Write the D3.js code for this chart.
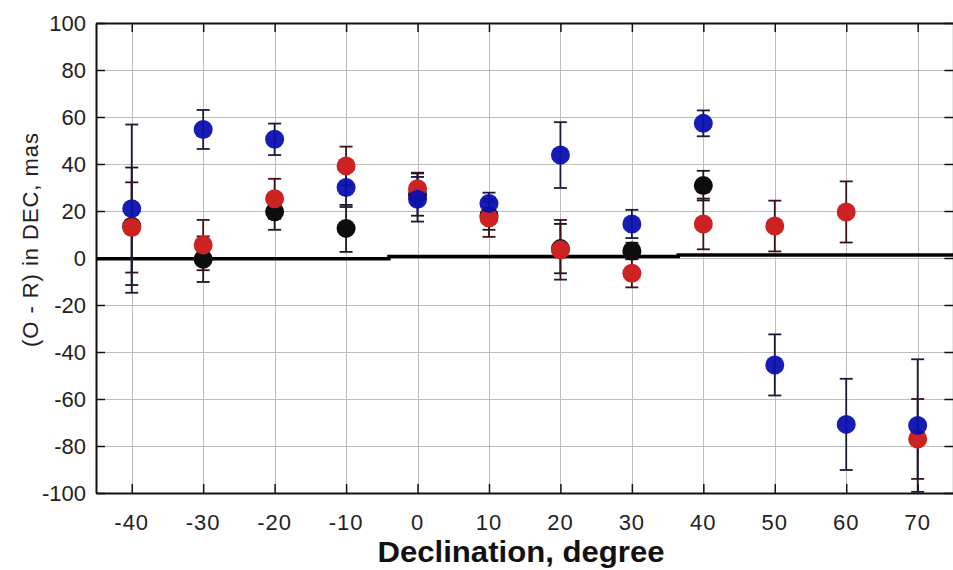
<!DOCTYPE html>
<html>
<head>
<meta charset="utf-8">
<title>(O - R) in DEC vs Declination</title>
<style>
body { margin: 0; background: #fff; }
svg { display: block; font-family: "Liberation Sans", Arial, sans-serif; }
.grid line { stroke: #bdbdbd; stroke-width: 1px; shape-rendering: crispEdges; }
.tick-label { font-size: 22px; fill: #222; }
</style>
</head>
<body>
<script src="https://d3js.org/d3.v7.min.js"></script>
<script>
// declination bins, degrees
var decl = [-40, -30, -20, -10, 0, 10, 20, 30, 40, 50, 60, 70];

// blue series
var blueVal = [21, 54.7, 50.5, 30, 25, 23.2, 43.8, 14.5, 57.3, -45.5, -70.8, -71.3];
var blueErr = [35.8, 8.3, 6.7, 8.3, 9.5, 4.6, 14, 6, 5.5, 13, 19.4, 28.2];

// red series
var redVal = [13, 5.5, 25.2, 39.2, 29.5, 17, 3.5, -6.5, 14.5, 13.6, 19.6, -77];
var redErr = [19.2, 10.7, 8.5, 8.2, 6.8, 8, 12.7, 6, 10.8, 10.8, 13, 17];

// black series (no points north of 40)
var blackVal = [13.5, -0.5, 19.7, 12.6, 27, 18, 4, 3, 30.8, null, null, null];
var blackErr = [25, 9.7, 7.7, 10, 9, 6, 10.5, 3.5, 6.3, null, null, null];

// reference line, drawn as three short steps
var refX = [-45, -4, -4, 36.5, 36.5, 75];
var refY = [-0.3, -0.3, 0.6, 0.6, 1.3, 1.3];

var xTicks = [-40, -30, -20, -10, 0, 10, 20, 30, 40, 50, 60, 70];
var yTicks = [-100, -80, -60, -40, -20, 0, 20, 40, 60, 80, 100];

var width = 953, height = 570;
var padL = 96, padR = 953.4, padT = 23, padB = 493;

var x = d3.scaleLinear().domain([-45, 75]).range([padL, padR]);
var y = d3.scaleLinear().domain([-100, 100]).range([padB, padT]);

var svg = d3.select("body").append("svg")
    .attr("width", width)
    .attr("height", height);

// grid
var grid = svg.append("g").attr("class", "grid");
grid.selectAll(".gx")
    .data(xTicks)
  .enter().append("line")
    .attr("x1", function(d) { return Math.round(x(d)) + 0.5; })
    .attr("x2", function(d) { return Math.round(x(d)) + 0.5; })
    .attr("y1", padT).attr("y2", padB);
grid.selectAll(".gy")
    .data(yTicks.filter(function(d) { return d > -100 && d < 100; }))
  .enter().append("line")
    .attr("x1", padL).attr("x2", padR)
    .attr("y1", function(d) { return Math.round(y(d)) + 0.5; })
    .attr("y2", function(d) { return Math.round(y(d)) + 0.5; });

// axes (MATLAB style box with inward ticks)
var xBottom = d3.axisBottom(x).tickValues(xTicks).tickSize(-9).tickSizeOuter(0).tickFormat("");
var xTop = d3.axisTop(x).tickValues(xTicks).tickSize(-9).tickSizeOuter(0).tickFormat("");
var yLeft = d3.axisLeft(y).tickValues(yTicks).tickSize(-9).tickSizeOuter(0).tickFormat("");
var yRight = d3.axisRight(y).tickValues(yTicks).tickSize(-9).tickSizeOuter(0).tickFormat("");

function styleAxis(g) {
  g.select(".domain").attr("stroke", "#111").attr("stroke-width", 2);
  g.selectAll(".tick line").attr("stroke", "#111").attr("stroke-width", 1.5);
}

svg.append("g").attr("transform", "translate(0," + padB + ")").call(xBottom).call(styleAxis);
svg.append("g").attr("transform", "translate(0," + padT + ")").call(xTop).call(styleAxis);
svg.append("g").attr("transform", "translate(" + padL + ",0)").call(yLeft).call(styleAxis);
svg.append("g").attr("transform", "translate(" + padR + ",0)").call(yRight).call(styleAxis);

// tick labels
svg.selectAll(".xl")
    .data(xTicks)
  .enter().append("text")
    .attr("class", "tick-label")
    .attr("x", function(d) { return x(d); })
    .attr("y", 530)
    .attr("text-anchor", "middle")
    .style("letter-spacing", "1px")
    .text(function(d) { return d; });

svg.selectAll(".yl")
    .data(yTicks)
  .enter().append("text")
    .attr("class", "tick-label")
    .attr("x", 86)
    .attr("y", function(d) { return y(d) + 8; })
    .attr("text-anchor", "end")
    .text(function(d) { return d; });

// axis titles
svg.append("text")
    .attr("transform", "translate(38,240)rotate(-90)")
    .attr("text-anchor", "middle")
    .style("font-size", "22px")
    .style("fill", "#222")
    .attr("textLength", 214)
    .attr("lengthAdjust", "spacing")
    .text("(O - R) in DEC, mas");

svg.append("text")
    .attr("x", 521)
    .attr("y", 562)
    .attr("text-anchor", "middle")
    .style("font-size", "29px")
    .style("font-weight", "bold")
    .style("fill", "#111")
    .attr("textLength", 287)
    .attr("lengthAdjust", "spacingAndGlyphs")
    .text("Declination, degree");

// reference line
var refPts = refX.map(function(d, i) { return [d, refY[i]]; });
svg.append("path")
    .datum(refPts)
    .attr("fill", "none")
    .attr("stroke", "#000")
    .attr("stroke-width", 3.5)
    .attr("d", d3.line().x(function(d) { return x(d[0]); }).y(function(d) { return y(d[1]); }));

var series = [
  { name: "black", vals: blackVal, errs: blackErr, fill: "#0d0d0d", bar: "#1a1a1a" },
  { name: "red", vals: redVal, errs: redErr, fill: "#cc2222", bar: "#3a1414" },
  { name: "blue", vals: blueVal, errs: blueErr, fill: "#0a10b0", bar: "#1a1a3a" }
];

var capW = 6.5;

// error bars first, markers on top
series.forEach(function(s) {
  var pts = decl.map(function(d, i) { return { x: d, v: s.vals[i], e: s.errs[i] }; })
      .filter(function(p) { return p.v !== null; });

  var eb = svg.append("g").attr("class", "err " + s.name)
      .attr("stroke", s.bar).attr("stroke-width", 1.8);
  var g = eb.selectAll("g").data(pts).enter().append("g");
  g.append("line")
      .attr("x1", function(p) { return x(p.x); }).attr("x2", function(p) { return x(p.x); })
      .attr("y1", function(p) { return y(p.v + p.e); }).attr("y2", function(p) { return y(p.v - p.e); });
  g.append("line")
      .attr("x1", function(p) { return x(p.x) - capW; }).attr("x2", function(p) { return x(p.x) + capW; })
      .attr("y1", function(p) { return y(p.v + p.e); }).attr("y2", function(p) { return y(p.v + p.e); });
  g.append("line")
      .attr("x1", function(p) { return x(p.x) - capW; }).attr("x2", function(p) { return x(p.x) + capW; })
      .attr("y1", function(p) { return y(p.v - p.e); }).attr("y2", function(p) { return y(p.v - p.e); });
  s.pts = pts;
});

series.forEach(function(s) {
  svg.append("g").attr("class", "pts " + s.name)
    .selectAll("circle")
    .data(s.pts)
  .enter().append("circle")
    .attr("cx", function(p) { return x(p.x); })
    .attr("cy", function(p) { return y(p.v); })
    .attr("r", 9.5)
    .attr("fill", s.fill)
    .attr("fill-opacity", s.name === "blue" ? 0.95 : 1);
});
</script>
</body>
</html>
